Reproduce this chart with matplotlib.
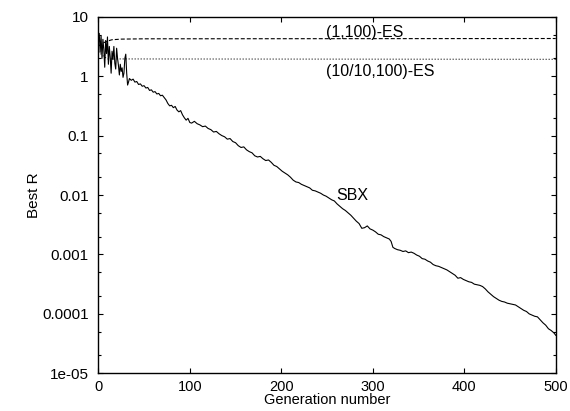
import numpy as np
import matplotlib
matplotlib.use('Agg')
from matplotlib import pyplot as plt
from matplotlib.ticker import FixedLocator, FixedFormatter, NullFormatter

plt.rcParams['font.family'] = ['Liberation Sans', 'DejaVu Sans']
plt.rcParams['font.size'] = 11

# SBX best R (log10 of value)
sbx_gen = [0, 1, 2, 3, 4, 5, 6, 7, 8, 9, 10, 11, 12, 13, 14, 15, 16, 17, 18, 19,
           20, 21, 22, 23, 24, 25, 26, 27, 28, 29, 30, 31, 32, 33, 34, 36, 38, 40,
           42, 44, 46, 48, 50, 52, 54, 56, 58, 60, 62, 64, 66, 68, 70, 72, 74, 76,
           78, 80, 82, 84, 86, 88, 90, 92, 94, 96, 98, 100, 102, 105, 108, 111,
           114, 117, 120, 123, 126, 129, 132, 135, 138, 141, 144, 147, 150, 153,
           156, 159, 162, 165, 168, 171, 174, 177, 180, 183, 186, 189, 192, 195,
           198, 201, 204, 207, 210, 213, 216, 219, 222, 225, 228, 231, 234, 237,
           240, 243, 246, 249, 252, 255, 258, 261, 264, 267, 270, 273, 276, 279,
           282, 285, 288, 291, 294, 297, 300, 303, 306, 309, 312, 315, 318, 320,
           322, 324, 327, 330, 333, 336, 339, 342, 345, 348, 351, 354, 357, 360,
           363, 366, 369, 372, 375, 378, 381, 384, 387, 390, 393, 396, 399, 402,
           405, 408, 411, 414, 417, 420, 423, 426, 429, 432, 435, 438, 441, 444,
           447, 450, 453, 456, 459, 462, 465, 468, 471, 474, 477, 480, 483, 486,
           489, 492, 495, 498, 500]
sbx_log = [0.55, 0.72, 0.40, 0.68, 0.30, 0.62, 0.45, 0.15, 0.60, 0.38, 0.66, 0.20,
           0.50, 0.32, 0.05, 0.42, 0.28, 0.50, 0.22, 0.12, 0.47, 0.30, 0.18, 0.02,
           0.20, 0.08, 0.14, -0.02, 0.05, 0.30, 0.37, 0.05, -0.15, -0.10, -0.04,
           -0.07, -0.05, -0.10, -0.09, -0.14, -0.13, -0.17, -0.16, -0.20, -0.19,
           -0.24, -0.23, -0.27, -0.26, -0.30, -0.29, -0.33, -0.32, -0.36, -0.40,
           -0.46, -0.50, -0.49, -0.53, -0.51, -0.57, -0.60, -0.58, -0.65, -0.70,
           -0.74, -0.71, -0.78, -0.79, -0.76, -0.80, -0.82, -0.85, -0.84, -0.88,
           -0.90, -0.94, -0.93, -0.97, -1.00, -1.02, -1.06, -1.05, -1.10, -1.12,
           -1.17, -1.20, -1.19, -1.24, -1.27, -1.29, -1.34, -1.36, -1.35, -1.39,
           -1.42, -1.41, -1.45, -1.50, -1.52, -1.56, -1.60, -1.63, -1.66, -1.70,
           -1.75, -1.78, -1.79, -1.82, -1.84, -1.86, -1.88, -1.92, -1.93, -1.95,
           -1.97, -2.00, -2.02, -2.05, -2.08, -2.10, -2.15, -2.19, -2.23, -2.26,
           -2.30, -2.34, -2.39, -2.44, -2.48, -2.56, -2.55, -2.52, -2.57, -2.59,
           -2.62, -2.66, -2.67, -2.70, -2.72, -2.74, -2.78, -2.88, -2.90, -2.92,
           -2.93, -2.95, -2.94, -2.97, -2.96, -2.98, -3.01, -3.03, -3.07, -3.08,
           -3.11, -3.13, -3.17, -3.19, -3.20, -3.22, -3.24, -3.26, -3.29, -3.32,
           -3.35, -3.40, -3.39, -3.42, -3.44, -3.46, -3.47, -3.50, -3.51, -3.52,
           -3.54, -3.58, -3.63, -3.67, -3.71, -3.74, -3.77, -3.79, -3.80, -3.82,
           -3.83, -3.84, -3.85, -3.88, -3.91, -3.94, -3.96, -4.00, -4.02, -4.04,
           -4.05, -4.10, -4.15, -4.19, -4.25, -4.28, -4.32, -4.36]

# (1,100)-ES and (10/10,100)-ES, nearly flat
es1_gen = [0, 5, 10, 15, 25, 50, 500]
es1_val = [3.2, 3.6, 3.9, 4.1, 4.2, 4.25, 4.3]
es10_gen = [0, 5, 10, 500]
es10_val = [2.6, 2.2, 1.95, 1.92]

xticks = [0, 100, 200, 300, 400, 500]
yticks = [1e-5, 1e-4, 1e-3, 1e-2, 1e-1, 1, 10]
ytick_labels = ['1e-05', '0.0001', '0.001', '0.01', '0.1', '1', '10']
yminor = [m * 10.0 ** e for e in range(-5, 1) for m in (2, 5)]

fig = plt.figure(figsize=(5.7, 4.11), dpi=100)
ax = fig.add_axes([0.1725, 0.0917, 0.8025, 0.8676])

ax.plot(sbx_gen, 10.0 ** np.array(sbx_log), color='black', lw=0.8)
ax.plot(es1_gen, es1_val, color='black', lw=0.8, dashes=(3.6, 1.8))
ax.plot(es10_gen, es10_val, color='black', lw=0.8, dashes=(0.9, 1.8))

ax.set_yscale('log')
ax.set_xlim(0, 500)
ax.set_ylim(1e-5, 10)

ax.xaxis.set_major_locator(FixedLocator(xticks))
ax.yaxis.set_major_locator(FixedLocator(yticks))
ax.yaxis.set_major_formatter(FixedFormatter(ytick_labels))
ax.yaxis.set_minor_locator(FixedLocator(yminor))
ax.yaxis.set_minor_formatter(NullFormatter())
ax.tick_params(which='both', direction='in', top=True, right=True, width=0.8)
ax.tick_params(which='major', length=3.6)
ax.tick_params(which='minor', length=2)
ax.tick_params(axis='x', which='major', pad=4.5, labelsize=10.5)
ax.tick_params(axis='y', which='major', pad=7)
for s in ax.spines.values():
    s.set_linewidth(1.0)

ax.text(249, 5.5, '(1,100)-ES', ha='left', va='center', fontsize=11.5)
ax.text(249, 1.22, '(10/10,100)-ES', ha='left', va='center', fontsize=11.5)
ax.text(260, 0.0099, 'SBX', ha='left', va='center', fontsize=11.5)

ax.set_xlabel('Generation number', labelpad=-0.5, fontsize=10.5)
ax.set_ylabel('Best R', labelpad=1)

fig.savefig('out.png', dpi=100)
